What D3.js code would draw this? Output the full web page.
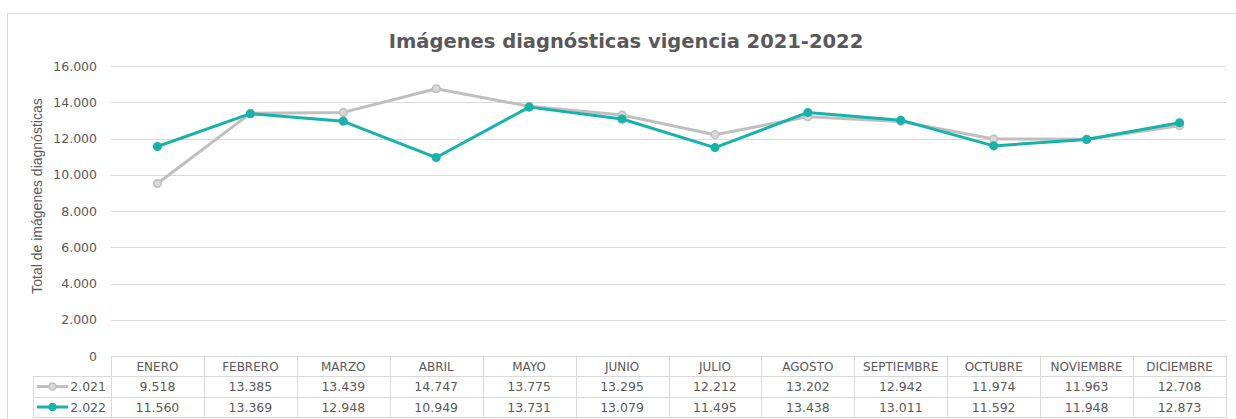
<!DOCTYPE html>
<html>
<head>
<meta charset="utf-8">
<script src="https://cdn.jsdelivr.net/npm/d3@7"></script>
<style>
  body { margin: 0; background: #fff; }
  svg { display: block; }
</style>
</head>
<body>
<div id="chart"></div>
<script>
// data
var months = ["ENERO", "FEBRERO", "MARZO", "ABRIL", "MAYO", "JUNIO", "JULIO",
  "AGOSTO", "SEPTIEMBRE", "OCTUBRE", "NOVIEMBRE", "DICIEMBRE"];
var values2021 = [9518, 13385, 13439, 14747, 13775, 13295, 12212, 13202, 12942, 11974, 11963, 12708];
var values2022 = [11560, 13369, 12948, 10949, 13731, 13079, 11495, 13438, 13011, 11592, 11948, 12873];
var seriesNames = ["2.021", "2.022"];
var yTicks = [0, 2000, 4000, 6000, 8000, 10000, 12000, 14000, 16000];

var W = 1236, H = 419;
var margin = { left: 111, right: 10, top: 66, bottom: 63 };
var plotW = 1226 - margin.left;
var plotH = 356 - margin.top;
var rowH = 20.4;

var colors = { "2.021": "#bfbfbf", "2.022": "#17b3aa" };
var fmt = d3.formatLocale({ decimal: ",", thousands: ".", grouping: [3], currency: ["", ""] }).format(",d");
var textColor = "#595959";
var gridColor = "#d9d9d9";

var svg = d3.select("#chart").append("svg")
  .attr("width", W).attr("height", H);

// outer frame
svg.append("rect")
  .attr("x", 7.5).attr("y", 13.5)
  .attr("width", W).attr("height", H)
  .attr("fill", "#fff").attr("stroke", gridColor);

svg.append("text")
  .attr("x", 626).attr("y", 48)
  .attr("text-anchor", "middle")
  .attr("font-family", "DejaVu Sans, Verdana, sans-serif")
  .attr("font-weight", "bold")
  .attr("font-size", "19.5px")
  .attr("fill", textColor)
  .text("Imágenes diagnósticas vigencia 2021-2022");

var g = svg.append("g").attr("transform", "translate(" + margin.left + "," + margin.top + ")");

var x = d3.scaleBand().domain(months).range([0, plotW]);
var y = d3.scaleLinear().domain([0, 16000]).range([plotH, 0]);

// gridlines
g.selectAll(".grid").data(yTicks.filter(function(d) { return d > 0; }))
  .enter().append("line")
  .attr("class", "grid")
  .attr("x1", 0).attr("x2", plotW)
  .attr("y1", function(d) { return Math.round(y(d)) + 0.5; })
  .attr("y2", function(d) { return Math.round(y(d)) + 0.5; })
  .attr("stroke", gridColor).attr("stroke-width", 1);

// y axis labels
var yAxis = d3.axisLeft(y).tickValues(yTicks).tickFormat(fmt).tickSize(0).tickPadding(14);
var yg = g.append("g").call(yAxis);
yg.select(".domain").remove();
yg.selectAll("text")
  .attr("font-family", "DejaVu Sans, Verdana, sans-serif")
  .attr("font-size", "12.5px")
  .attr("fill", textColor);

svg.append("text")
  .attr("transform", "translate(42,196) rotate(-90)")
  .attr("text-anchor", "middle")
  .attr("font-family", "Liberation Sans, Arial, sans-serif")
  .attr("font-size", "14px")
  .attr("fill", textColor)
  .text("Total de imágenes diagnósticas");

// data table under the plot
var table = g.append("g").attr("transform", "translate(0," + plotH + ")");
var tableRows = [values2021, values2022];
var legendLeft = 33 - margin.left;

// horizontal lines of the table
[0, 1, 2, 3].forEach(function(r) {
  table.append("line")
    .attr("x1", r === 0 ? 0 : legendLeft).attr("x2", plotW)
    .attr("y1", Math.round(r * rowH) + 0.5).attr("y2", Math.round(r * rowH) + 0.5)
    .attr("stroke", gridColor);
});
// vertical lines
months.concat(["end"]).forEach(function(m, i) {
  var xx = i < months.length ? x(m) : plotW;
  table.append("line")
    .attr("x1", Math.round(xx) + 0.5).attr("x2", Math.round(xx) + 0.5)
    .attr("y1", 0).attr("y2", 3 * rowH)
    .attr("stroke", gridColor);
});
table.append("line")
  .attr("x1", legendLeft + 0.5).attr("x2", legendLeft + 0.5)
  .attr("y1", rowH).attr("y2", 3 * rowH)
  .attr("stroke", gridColor);

table.selectAll(".month").data(months).enter().append("text")
  .attr("class", "month")
  .attr("x", function(d) { return x(d) + x.bandwidth() / 2; })
  .attr("y", rowH - 5.5)
  .attr("text-anchor", "middle")
  .attr("font-family", "DejaVu Sans, Verdana, sans-serif")
  .attr("font-size", "12px")
  .attr("fill", textColor)
  .text(function(d) { return d; });

tableRows.forEach(function(vals, r) {
  table.selectAll(".val" + r).data(vals).enter().append("text")
    .attr("x", function(d, i) { return x(months[i]) + x.bandwidth() / 2; })
    .attr("y", (r + 2) * rowH - 5.5)
    .attr("text-anchor", "middle")
    .attr("font-family", "DejaVu Sans, Verdana, sans-serif")
    .attr("font-size", "12.5px")
    .attr("fill", textColor)
    .text(function(d) { return fmt(d); });

  // legend key
  var name = seriesNames[r];
  var ly = (r + 1.5) * rowH;
  table.append("line")
    .attr("x1", legendLeft + 4).attr("x2", legendLeft + 35)
    .attr("y1", ly).attr("y2", ly)
    .attr("stroke", colors[name]).attr("stroke-width", 3);
  table.append("circle")
    .attr("cx", legendLeft + 19.5).attr("cy", ly).attr("r", 3.5)
    .attr("fill", r === 0 ? "#d9d9d9" : colors[name])
    .attr("stroke", colors[name]).attr("stroke-width", 1.5);
  table.append("text")
    .attr("x", -5).attr("y", (r + 2) * rowH - 5.5)
    .attr("text-anchor", "end")
    .attr("font-family", "DejaVu Sans, Verdana, sans-serif")
    .attr("font-size", "12.5px")
    .attr("fill", textColor)
    .text(name);
});

// series lines
var line = d3.line()
  .x(function(d, i) { return x(months[i]) + x.bandwidth() / 2; })
  .y(function(d) { return y(d); });

tableRows.forEach(function(vals, r) {
  var name = seriesNames[r];
  g.append("path")
    .datum(vals)
    .attr("d", line)
    .attr("fill", "none")
    .attr("stroke", colors[name])
    .attr("stroke-width", 3)
    .attr("stroke-linejoin", "round");
  g.selectAll(".pt" + r).data(vals).enter().append("circle")
    .attr("cx", function(d, i) { return x(months[i]) + x.bandwidth() / 2; })
    .attr("cy", function(d) { return y(d); })
    .attr("r", 3.8)
    .attr("fill", r === 0 ? "#d9d9d9" : colors[name])
    .attr("stroke", colors[name])
    .attr("stroke-width", 1.5);
});
</script>
</body>
</html>
